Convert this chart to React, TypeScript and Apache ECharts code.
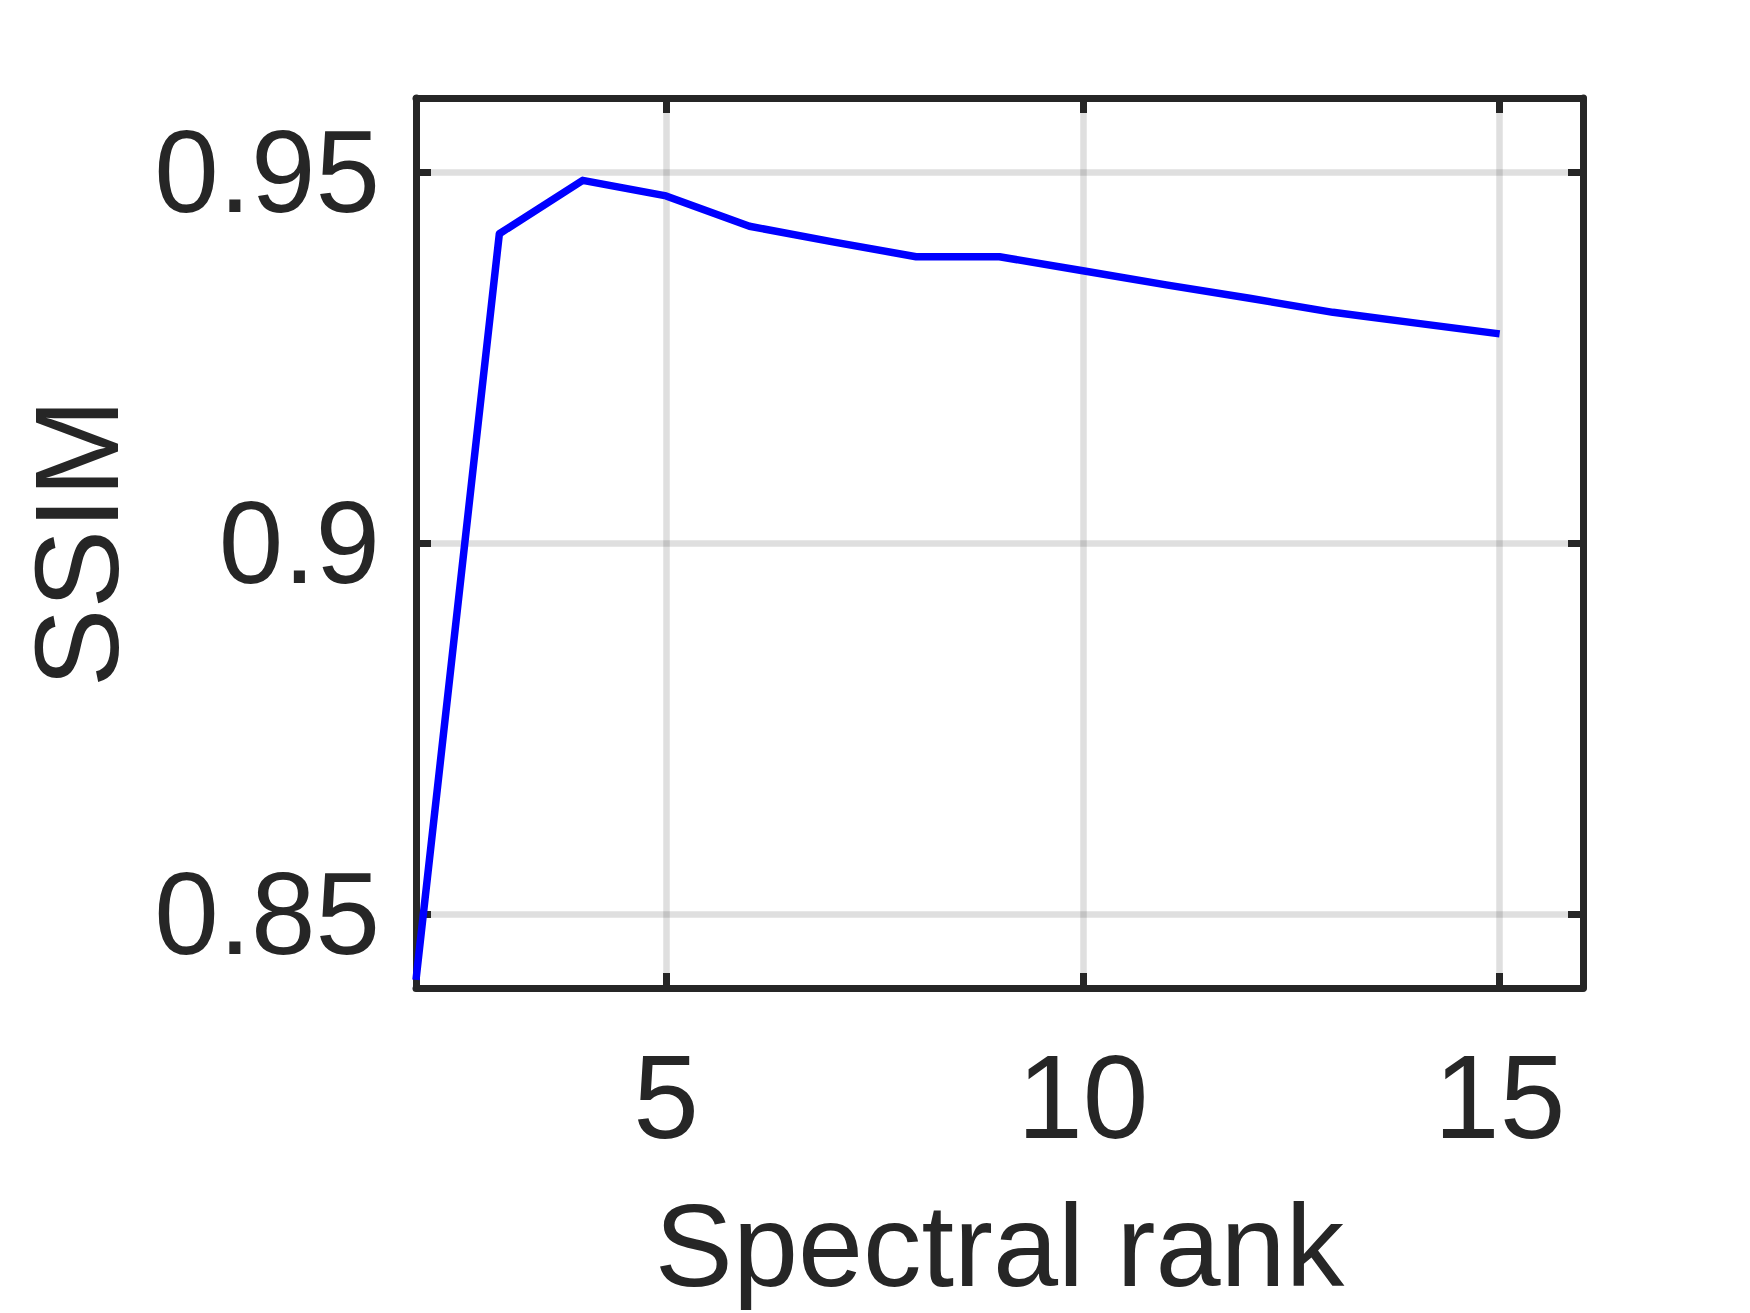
import React, { useEffect, useRef } from "react";
import * as echarts from "echarts";

// ---- data ----
const ranks = [2, 3, 4, 5, 6, 7, 8, 9, 10, 11, 12, 13, 14, 15];
const ssim = [0.8411, 0.9417, 0.9489, 0.9468, 0.9427, 0.9406, 0.9386, 0.9386, 0.9367, 0.9348, 0.933, 0.9311, 0.92965, 0.9282];
const xTicks = [5, 10, 15];
const yTicks = [0.85, 0.9, 0.95];
const xRange = [2, 16];
const yRange = [0.84, 0.96];
const xTitle = "Spectral rank";
const yTitle = "SSIM";

const FONT = "'Liberation Sans', Arial, Helvetica, sans-serif";
const INK = "#262626";
const GRIDC = "rgba(38,38,38,0.15)";

export default function App() {
  const ref = useRef<HTMLDivElement>(null);
  useEffect(() => {
    if (!ref.current) return;
    const chart = echarts.init(ref.current, undefined, { renderer: "svg" });
    const axisLine = { show: true, onZero: false, lineStyle: { color: INK, width: 7 } };
    const tickStyle = { color: INK, width: 7 };
    chart.setOption({
      animation: false,
      backgroundColor: "#ffffff",
      grid: {
        left: 416,
        top: 98,
        width: 1167,
        height: 890,
        containLabel: false,
        outerBoundsMode: "none",
        show: false,
      },
      xAxis: [
        {
          type: "value",
          min: xRange[0],
          max: xRange[1],
          position: "bottom",
          axisLine,
          axisTick: { show: true, inside: true, length: 15, customValues: xTicks, lineStyle: tickStyle },
          axisLabel: {
            show: true,
            customValues: xTicks,
            fontSize: 118,
            fontFamily: FONT,
            color: INK,
            margin: 50,
          },
          splitLine: { show: true, lineStyle: { color: GRIDC, width: 6.5 } },
          name: xTitle,
          nameLocation: "middle",
          nameGap: 199,
          nameTextStyle: { fontSize: 117, fontFamily: FONT, color: INK },
        },
        {
          type: "value",
          min: xRange[0],
          max: xRange[1],
          position: "top",
          axisLine,
          axisTick: { show: true, inside: true, length: 15, customValues: xTicks, lineStyle: tickStyle },
          axisLabel: { show: false },
          splitLine: { show: false },
        },
      ],
      yAxis: [
        {
          type: "value",
          min: yRange[0],
          max: yRange[1],
          position: "left",
          axisLine,
          axisTick: { show: true, inside: true, length: 15, customValues: yTicks, lineStyle: tickStyle },
          axisLabel: {
            show: true,
            customValues: yTicks,
            fontSize: 116,
            fontFamily: FONT,
            color: INK,
            margin: 36,
            padding: [8, 0, 0, 0],
          },
          splitLine: { show: true, lineStyle: { color: GRIDC, width: 6.5 } },
          name: yTitle,
          nameLocation: "middle",
          nameGap: 280,
          nameRotate: 90,
          nameTextStyle: { fontSize: 118, fontFamily: FONT, color: INK },
        },
        {
          type: "value",
          min: yRange[0],
          max: yRange[1],
          position: "right",
          axisLine,
          axisTick: { show: true, inside: true, length: 15, customValues: yTicks, lineStyle: tickStyle },
          axisLabel: { show: false },
          splitLine: { show: false },
        },
      ],
      series: [
        {
          type: "line",
          xAxisIndex: 0,
          yAxisIndex: 0,
          data: ranks.map((r, i) => [r, ssim[i]]),
          showSymbol: false,
          symbol: "none",
          clip: true,
          lineStyle: { color: "#0000ff", width: 7.5, join: "round" },
          z: 3,
        },
      ],
    });
    return () => chart.dispose();
  }, []);
  return (
    <div
      ref={ref}
      style={{ position: "absolute", left: 0, top: 0, width: 1750, height: 1313, background: "#fff" }}
    />
  );
}
